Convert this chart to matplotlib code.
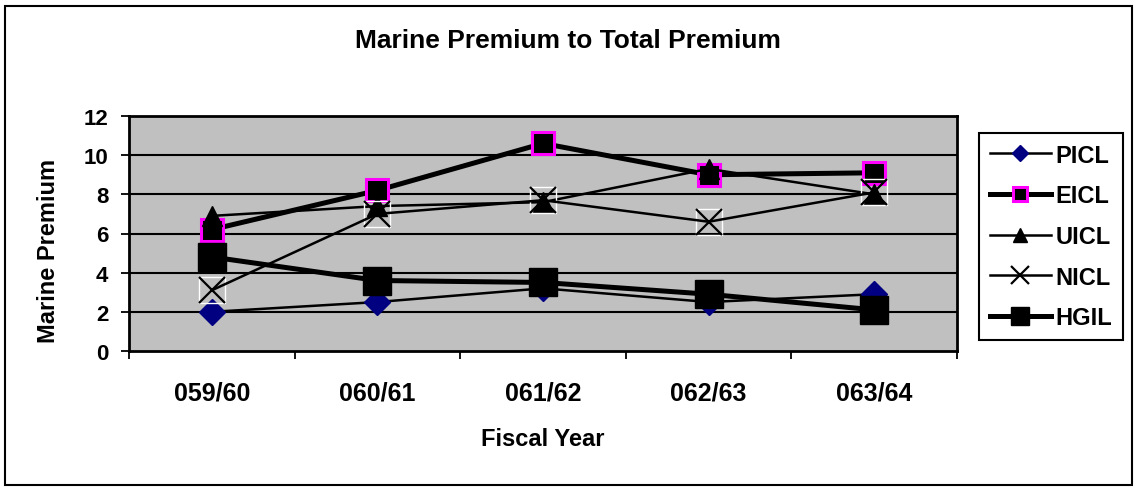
import matplotlib.pyplot as plt
from matplotlib.patches import Rectangle
import numpy as np

plt.rcParams['font.family'] = ['Liberation Sans', 'DejaVu Sans']
plt.rcParams['font.weight'] = 'bold'

years = ["059/60", "060/61", "061/62", "062/63", "063/64"]
picl = [2.0, 2.5, 3.2, 2.5, 2.9]
eicl = [6.2, 8.2, 10.6, 9.0, 9.1]
uicl = [6.9, 7.4, 7.6, 9.3, 8.0]
nicl = [3.1, 7.0, 7.7, 6.6, 8.1]
hgil = [4.8, 3.6, 3.5, 2.9, 2.1]

x = np.arange(len(years))

W, H = 1136, 489
fig = plt.figure(figsize=(W / 100, H / 100), dpi=100)
ax = fig.add_axes([129 / W, 1 - 352 / H, (957 - 129) / W, (352 - 117) / H])
ax.set_facecolor('#C0C0C0')

# horizontal gridlines
for v in range(2, 12, 2):
    ax.axhline(v, color='black', lw=1.5, zorder=1)

ax.plot(x, picl, color='black', lw=1.8, marker='D', ms=13,
        mfc='#000080', mec='#000080', label='PICL', zorder=3)
ax.plot(x, eicl, color='black', lw=3.6, marker='s', ms=16.5,
        mfc='black', mec='#FF00FF', mew=2.2, label='EICL', zorder=3)
ax.plot(x, uicl, color='black', lw=1.8, marker='^', ms=15,
        mfc='black', mec='black', label='UICL', zorder=3)
ax.plot(x, nicl, ls='none', marker='s', ms=19, mfc='none', mec='white',
        mew=1, zorder=3)
ax.plot(x, nicl, color='black', lw=1.8, marker='x', ms=19, mew=1.6,
        mec='black', label='NICL', zorder=3)
ax.plot(x, hgil, color='black', lw=3.6, marker='s', ms=20,
        mfc='black', mec='black', label='HGIL', zorder=3)

ax.set_xlim(-0.5, len(years) - 0.5)
ax.set_ylim(0, 12)
ax.set_yticks(range(0, 13, 2))
ax.tick_params(axis='y', labelsize=16, length=6, width=1.3, pad=9, direction='out')

# ticks on category boundaries, labels at category centres
ax.set_xticks(np.arange(-0.5, len(years), 1.0))
ax.set_xticklabels([])
ax.set_xticks(x, minor=True)
ax.set_xticklabels(years, minor=True)
ax.tick_params(axis='x', which='major', length=6, width=1.3, direction='out')
ax.tick_params(axis='x', which='minor', length=0, labelsize=18, pad=21)

for s in ax.spines.values():
    s.set_linewidth(2)

ax.set_xlabel('Fiscal Year', fontsize=17, fontweight='bold', va='center')
ax.xaxis.set_label_coords(0.5, -(440 - 352) / (352 - 117))
ax.set_ylabel('Marine Premium', fontsize=17, fontweight='bold', va='center')
ax.yaxis.set_label_coords(-(129 - 49) / (957 - 129), 0.43)
fig.text(0.5, 1 - 41 / H, 'Marine Premium to Total Premium',
         ha='center', va='center', fontsize=19, fontweight='bold')

leg = ax.legend(loc='upper left', bbox_to_anchor=(979 / W, 1 - 134 / H),
                bbox_transform=fig.transFigure, fontsize=17, frameon=True,
                fancybox=False, edgecolor='black', framealpha=1,
                handlelength=2.6, borderpad=0.45, labelspacing=0.75,
                handletextpad=0.2, borderaxespad=0)
leg.get_frame().set_linewidth(1.5)
for h in leg.legend_handles:
    h.set_markersize(h.get_markersize() * 0.65)

# outer chart border
fig.patches.append(Rectangle((5 / W, 1 - 486 / H), 1127 / W, 479 / H,
                             transform=fig.transFigure, fill=False,
                             edgecolor='black', lw=1.5))

fig.savefig('out.png', dpi=100)
